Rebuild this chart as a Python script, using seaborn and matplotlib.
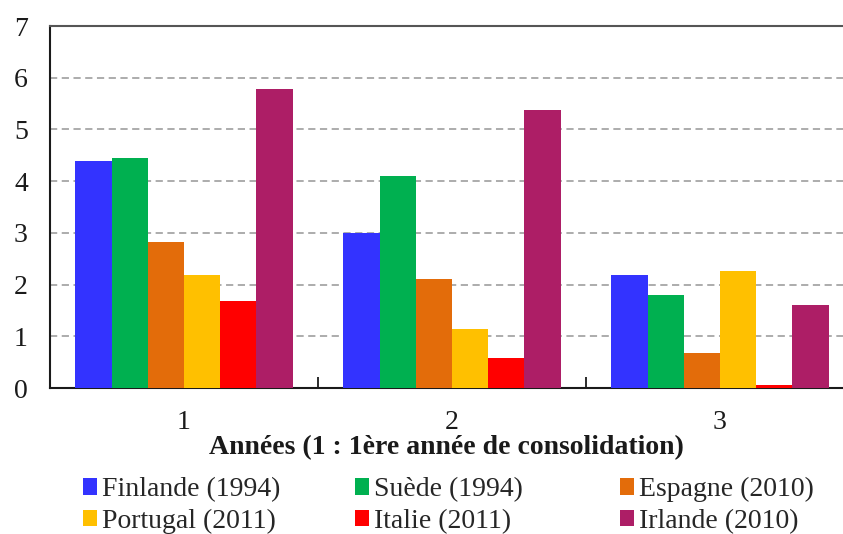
import matplotlib
matplotlib.use('Agg')
import matplotlib.pyplot as plt
import seaborn as sns
import pandas as pd
from matplotlib.patches import Patch

# données
annees = ['1', '2', '3']
pays = ['Finlande (1994)', 'Suède (1994)', 'Espagne (2010)',
        'Portugal (2011)', 'Italie (2011)', 'Irlande (2010)']
finlande = [4.39, 3.00, 2.19]
suede = [4.45, 4.10, 1.79]
espagne = [2.82, 2.11, 0.68]
portugal = [2.19, 1.14, 2.27]
italie = [1.68, 0.58, 0.05]
irlande = [5.78, 5.38, 1.61]
couleurs = ['#3333FF', '#00B050', '#E36C0A', '#FFC000', '#FF0000', '#AD1E66']

series = [finlande, suede, espagne, portugal, italie, irlande]
rows = []
for nom, vals in zip(pays, series):
    for a, v in zip(annees, vals):
        rows.append({'annee': a, 'pays': nom, 'valeur': v})
df = pd.DataFrame(rows)

sns.set_theme(style='white')
plt.rcParams['font.family'] = ['Liberation Serif', 'DejaVu Serif']

fig = plt.figure(figsize=(8.43, 5.34), dpi=100)
ax = fig.add_axes([50/843, 1-388/534, 1-50/843, (388-26)/534])

sns.barplot(data=df, x='annee', y='valeur', hue='pays', hue_order=pays,
            palette=couleurs, width=0.81, saturation=1, ax=ax, legend=False,
            edgecolor='none', zorder=3)

ax.set_ylim(0, 7)
ax.set_xlim(-0.5, -0.5 + 793/268)
ax.set_yticks(range(8))
ax.yaxis.grid(True, linestyle=(0, (4, 2.5)), color='#A6A6A6', linewidth=1.3, zorder=0)
ax.set_axisbelow(True)

for s in ['left', 'bottom', 'top']:
    ax.spines[s].set_visible(True)
    ax.spines[s].set_color('#1a1a1a')
    ax.spines[s].set_linewidth(1.5)
ax.spines['right'].set_visible(False)
ax.spines['top'].set_color('#555555')

ax.tick_params(axis='y', labelsize=20, pad=16, length=0, colors='#1a1a1a')
ax.tick_params(axis='x', which='major', labelsize=20, pad=16, length=0, colors='#1a1a1a')
ax.set_xticks([0.5, 1.5], minor=True)
ax.tick_params(axis='x', which='minor', bottom=True, direction='in', length=8,
               width=1.3, color='#1a1a1a')
ax.set_ylabel('')
ax.set_xlabel('Années (1 : 1ère année de consolidation)', fontsize=20,
              fontweight='bold', labelpad=0, color='#1a1a1a')

# légende en trois colonnes, comme Excel
handles = [Patch(facecolor=c, edgecolor='none') for c in couleurs]
cols_x = [83/843, 355/843, 620/843]
for i, x in enumerate(cols_x):
    fig.legend(handles=[handles[i], handles[i + 3]], labels=[pays[i], pays[i + 3]],
               loc='upper left', bbox_to_anchor=(x, 1 - 477/534), frameon=False,
               fontsize=20, handlelength=0.5, handleheight=0.55, handletextpad=0.2,
               labelspacing=0.24, borderpad=0, borderaxespad=0)

fig.savefig('out.png', dpi=100)
